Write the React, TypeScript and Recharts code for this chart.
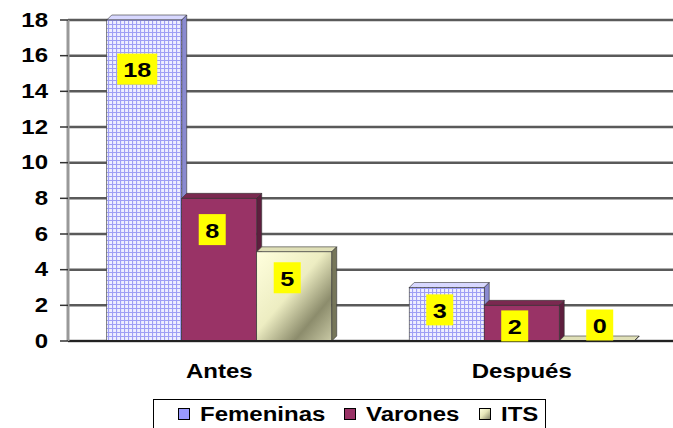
import React from 'react';
import { BarChart, Bar, XAxis, YAxis, CartesianGrid, Legend, LabelList } from 'recharts';

const categories = ['Antes', 'Después'];
const femeninas = [18, 3];
const varones = [8, 2];
const its = [5, 0];
const yTicks = [0, 2, 4, 6, 8, 10, 12, 14, 16, 18];
const seriesNames = ['Femeninas', 'Varones', 'ITS'];

const data = categories.map((name, i) => ({
    name,
    Femeninas: femeninas[i],
    Varones: varones[i],
    ITS: its[i],
}));

const FONT = 'Arial, "Liberation Sans", sans-serif';
const DEPTH = 5;

// front face + top + right side, to get the old excel 3d look
const makeBar3D = (side: string, top: string) => (props: any) => {
    const { x, y, width, height, fill } = props;
    const d = DEPTH;
    return (
        <g>
            <polygon
                points={`${x},${y} ${x + d},${y - d} ${x + width + d},${y - d} ${x + width},${y}`}
                fill={top}
                stroke="#333"
                strokeWidth={0.6}
            />
            <polygon
                points={`${x + width},${y} ${x + width + d},${y - d} ${x + width + d},${y + height - d} ${x + width},${y + height}`}
                fill={side}
                stroke="#333"
                strokeWidth={0.6}
            />
            <rect x={x} y={y} width={width} height={height} fill={fill} stroke="#333" strokeWidth={0.6} />
        </g>
    );
};

// yellow boxed value labels
const DataLabel = (props: any) => {
    const vb = props.viewBox || props;
    const { x, y, width, height } = vb;
    const s = String(props.value);
    const w = s.length > 1 ? 40 : 27;
    const h = 31;
    const cx = x + width / 2 - (height > 0 ? 7 : -3);
    const cy = height > 0 ? y + 17 + height * 0.1 : y - 16;
    return (
        <g>
            <rect x={cx - w / 2} y={cy - h / 2} width={w} height={h} fill="#FFFF00" />
            <text
                transform={`translate(${cx},${cy + 1}) scale(1.2,1)`}
                textAnchor="middle"
                dominantBaseline="central"
                fontFamily={FONT}
                fontWeight="bold"
                fontSize={21}
                fill="#000"
            >
                {s}
            </text>
        </g>
    );
};

const YTick = ({ x, y, payload }: any) => (
    <text
        transform={`translate(${x},${y}) scale(1.2,1)`}
        textAnchor="end"
        dominantBaseline="central"
        fontFamily={FONT}
        fontWeight="bold"
        fontSize={20}
        fill="#000"
    >
        {payload.value}
    </text>
);

const XTick = ({ x, y, payload }: any) => (
    <text
        transform={`translate(${x},${y + 28}) scale(1.2,1)`}
        textAnchor="middle"
        dominantBaseline="central"
        fontFamily={FONT}
        fontWeight="bold"
        fontSize={20}
        fill="#000"
    >
        {payload.value}
    </text>
);

const legendIcons: { [k: string]: string } = {
    Femeninas: '#9999FF',
    Varones: '#993366',
    ITS: 'linear-gradient(135deg, #FFFFDD 0%, #E6E6B8 45%, #86866A 100%)',
};
const legendLefts = [24, 190, 325];

// keep series order (legend payload comes back sorted otherwise)
const LegendBox = () => (
    <div style={{ position: 'relative', width: '100%', height: '100%' }}>
        {seriesNames.map((name, i) => (
            <React.Fragment key={name}>
                <span
                    style={{
                        position: 'absolute',
                        left: legendLefts[i],
                        top: 8,
                        width: 10,
                        height: 10,
                        border: '1px solid #000',
                        background: legendIcons[name],
                    }}
                />
                <span
                    style={{
                        position: 'absolute',
                        left: legendLefts[i] + 22,
                        top: 1,
                        fontFamily: FONT,
                        fontWeight: 'bold',
                        fontSize: 20,
                        lineHeight: '26px',
                        color: '#000',
                        transform: 'scaleX(1.2)',
                        transformOrigin: 'left center',
                        whiteSpace: 'nowrap',
                    }}
                >
                    {name}
                </span>
            </React.Fragment>
        ))}
    </div>
);

export default function App() {
    return (
        <div style={{ position: 'absolute', left: 0, top: 0, background: '#fff' }}>
            <BarChart
                width={673}
                height={428}
                data={data}
                margin={{ top: 20, right: 0, bottom: 57, left: 0 }}
                barCategoryGap="12.8%"
                barGap={0}
            >
                <defs>
                    <pattern id="femGrid" patternUnits="userSpaceOnUse" width={4} height={4}>
                        <rect width={4} height={4} fill="#EEEEFF" />
                        <path d="M0 0.5 H4 M0.5 0 V4" stroke="#9E9EF5" strokeWidth={1.2} />
                    </pattern>
                    <linearGradient id="itsGrad" x1="0" y1="0" x2="1" y2="1">
                        <stop offset="0%" stopColor="#FFFFDD" />
                        <stop offset="45%" stopColor="#EDEDC2" />
                        <stop offset="75%" stopColor="#8C8C6C" />
                        <stop offset="100%" stopColor="#C9C9A5" />
                    </linearGradient>
                </defs>
                <CartesianGrid vertical={false} stroke="#5a5a5a" strokeWidth={2.5} />
                <XAxis
                    dataKey="name"
                    height={30}
                    tickSize={0}
                    tickLine={false}
                    axisLine={{ stroke: '#222', strokeWidth: 2 }}
                    tick={<XTick />}
                />
                <YAxis
                    width={68}
                    domain={[0, 18]}
                    ticks={yTicks}
                    tickSize={8}
                    tickMargin={12}
                    interval={0}
                    axisLine={{ stroke: '#999', strokeWidth: 3 }}
                    tickLine={{ stroke: '#333', strokeWidth: 1.5 }}
                    tick={<YTick />}
                />
                <Legend
                    layout="horizontal"
                    verticalAlign="middle"
                    align="center"
                    content={<LegendBox />}
                    wrapperStyle={{
                        left: 153,
                        top: 399,
                        width: 393,
                        height: 34,
                        border: '1px solid #000',
                        background: '#fff',
                        boxSizing: 'border-box',
                    }}
                />
                <Bar
                    dataKey="Femeninas"
                    fill="url(#femGrid)"
                    shape={makeBar3D('#8A8AD0', '#D8D8FF')}
                    isAnimationActive={false}
                >
                    <LabelList dataKey="Femeninas" content={<DataLabel />} />
                </Bar>
                <Bar
                    dataKey="Varones"
                    fill="#993366"
                    shape={makeBar3D('#5E1E3E', '#7A2950')}
                    isAnimationActive={false}
                >
                    <LabelList dataKey="Varones" content={<DataLabel />} />
                </Bar>
                <Bar
                    dataKey="ITS"
                    fill="url(#itsGrad)"
                    shape={makeBar3D('#76765A', '#E0E0B8')}
                    isAnimationActive={false}
                >
                    <LabelList dataKey="ITS" content={<DataLabel />} />
                </Bar>
            </BarChart>
        </div>
    );
}
